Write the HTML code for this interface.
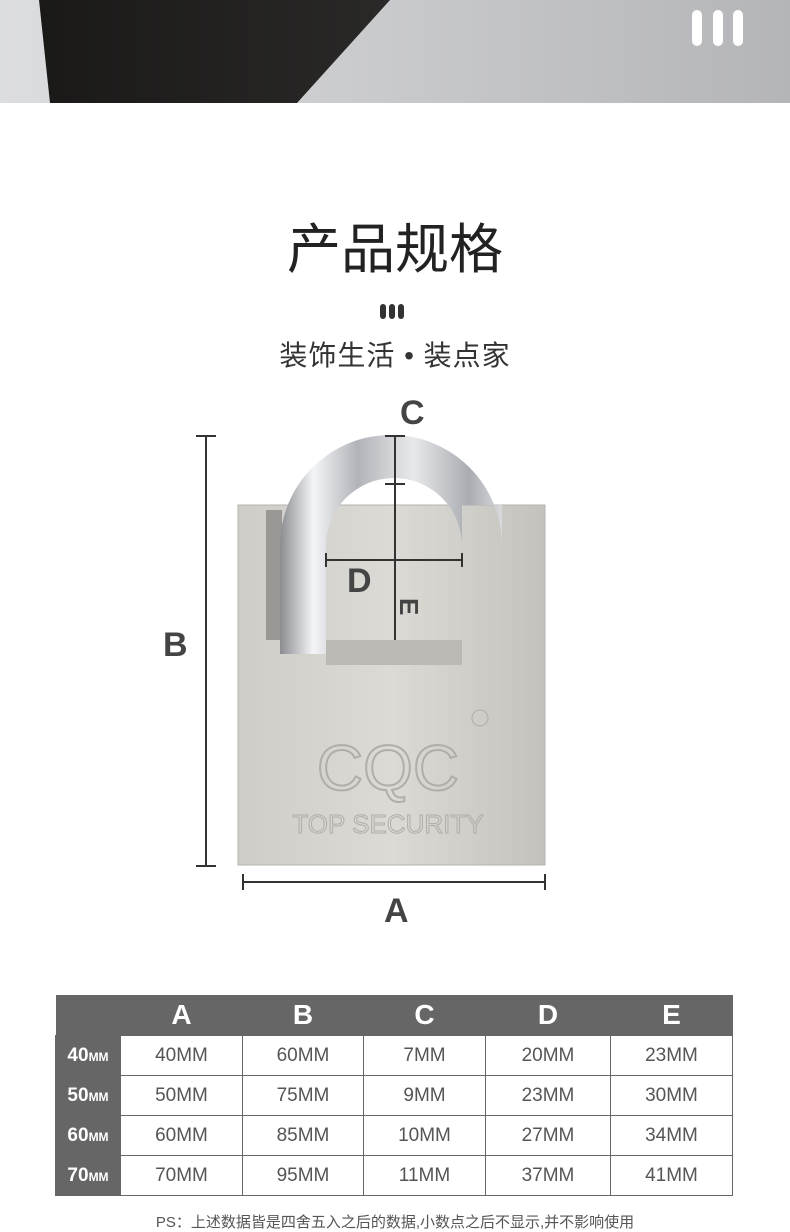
<!DOCTYPE html>
<html><head><meta charset="utf-8"><style>
body{margin:0;width:790px;height:1218px;background:#fff;position:relative;overflow:hidden;font-family:"Liberation Sans","Noto Sans CJK SC",sans-serif}
.abs{position:absolute}
table{border-collapse:collapse;position:absolute;left:55px;top:995px;width:677px;table-layout:fixed}
td{border:1px solid #666;height:39px;text-align:center;font-size:19px;color:#555;padding:0}
th{background:#666;color:#fff;font-size:28px;height:40px;font-weight:bold;padding:0}
td.l{background:#666;color:#fff;font-weight:bold;font-size:19px;border-color:#666}
td.l small{font-size:12px}
</style></head><body>
<svg class="abs" style="left:0;top:0" width="790" height="103">
<defs><linearGradient id="bg" x1="0" x2="1"><stop offset="0" stop-color="#dcdddf"/><stop offset="1" stop-color="#b4b5b8"/></linearGradient>
<linearGradient id="dk" x1="0" x2="1"><stop offset="0" stop-color="#1a1918"/><stop offset="1" stop-color="#2a2928"/></linearGradient></defs>
<rect width="790" height="103" fill="url(#bg)"/>
<polygon points="39,0 390,0 297,103 50,103" fill="url(#dk)"/>
<rect x="692" y="10" width="10" height="36" rx="5" fill="#fff"/><rect x="713" y="10" width="10" height="36" rx="5" fill="#fff"/><rect x="733" y="10" width="10" height="36" rx="5" fill="#fff"/>
</svg>
<div class="abs" style="left:0;width:790px;top:218px;text-align:center;font-size:54px;color:#222;line-height:64px">产品规格</div>
<svg class="abs" style="left:380px;top:304px" width="30" height="16"><rect x="0" y="0" width="6" height="15" rx="3" fill="#333"/><rect x="9" y="0" width="6" height="15" rx="3" fill="#333"/><rect x="18" y="0" width="6" height="15" rx="3" fill="#333"/></svg>
<div class="abs" style="left:0;width:790px;top:338px;text-align:center;font-size:28px;color:#333;line-height:36px;letter-spacing:1px">装饰生活 • 装点家</div>
<svg class="abs" style="left:0;top:390px" width="790" height="560">
<defs>
<linearGradient id="sh" gradientUnits="userSpaceOnUse" x1="280" y1="0" x2="502" y2="0"><stop offset="0" stop-color="#8a8c90"/><stop offset=".15" stop-color="#f4f5f7"/><stop offset=".35" stop-color="#b0b3b8"/><stop offset=".6" stop-color="#e8e9eb"/><stop offset=".85" stop-color="#a9acb1"/><stop offset="1" stop-color="#d8dadd"/></linearGradient>
<linearGradient id="bd" x1="0" x2="1"><stop offset="0" stop-color="#cfcdc8"/><stop offset=".5" stop-color="#dcdad5"/><stop offset="1" stop-color="#c4c2bd"/></linearGradient>
</defs>
<path d="M280 260 V156 A111 111 0 0 1 502 156 V140 H462 V156 A68 68 0 0 0 326 156 V260 Z" fill="url(#sh)"/>
<rect x="238" y="115" width="307" height="360" fill="url(#bd)" stroke="#b5b3ae"/>
<rect x="266" y="120" width="16" height="130" fill="#9a9894"/>
<rect x="326" y="250" width="136" height="25" fill="#bbb9b4"/>
<path d="M280 264 V156 A111 111 0 0 1 391 45 V88 A68 68 0 0 0 326 156 V264 Z" fill="url(#sh)"/>
<path d="M391 45 A111 111 0 0 1 502 156 V115 H462 V156 A68 68 0 0 0 391 88 Z" fill="url(#sh)"/>
<text x="388" y="400" font-size="64" fill="none" stroke="#b0aea9" stroke-width="2" text-anchor="middle" font-family="Liberation Sans">CQC</text>
<text x="388" y="443" font-size="26" fill="none" stroke="#b0aea9" stroke-width="1" text-anchor="middle" font-family="Liberation Sans">TOP SECURITY</text>
<circle cx="480" cy="328" r="8" fill="none" stroke="#b0aea9"/>
<g stroke="#333" stroke-width="2" fill="none">
<line x1="206" y1="46" x2="206" y2="476"/><line x1="196" y1="46" x2="216" y2="46"/><line x1="196" y1="476" x2="216" y2="476"/>
<line x1="243" y1="492" x2="545" y2="492"/><line x1="243" y1="484" x2="243" y2="500"/><line x1="545" y1="484" x2="545" y2="500"/>
<line x1="395" y1="46" x2="395" y2="250"/><line x1="385" y1="46" x2="405" y2="46"/><line x1="385" y1="94" x2="405" y2="94"/>
<line x1="326" y1="170" x2="462" y2="170"/><line x1="326" y1="163" x2="326" y2="177"/><line x1="462" y1="163" x2="462" y2="177"/>
</g>
<g font-family="Liberation Sans" font-weight="bold" font-size="34" fill="#444">
<text x="400" y="34">C</text><text x="163" y="266">B</text><text x="384" y="532">A</text><text x="347" y="202">D</text>
<text x="0" y="0" transform="translate(400,208) rotate(90)" font-size="26">E</text>
</g>
</svg>
<table>
<colgroup><col style="width:65px"><col style="width:122px"><col style="width:121px"><col style="width:122px"><col style="width:125px"><col style="width:122px"></colgroup>
<tr><th></th><th>A</th><th>B</th><th>C</th><th>D</th><th>E</th></tr>
<tr><td class="l">40<small>MM</small></td><td>40MM</td><td>60MM</td><td>7MM</td><td>20MM</td><td>23MM</td></tr>
<tr><td class="l">50<small>MM</small></td><td>50MM</td><td>75MM</td><td>9MM</td><td>23MM</td><td>30MM</td></tr>
<tr><td class="l">60<small>MM</small></td><td>60MM</td><td>85MM</td><td>10MM</td><td>27MM</td><td>34MM</td></tr>
<tr><td class="l">70<small>MM</small></td><td>70MM</td><td>95MM</td><td>11MM</td><td>37MM</td><td>41MM</td></tr>
</table>
<div class="abs" style="left:0;width:790px;top:1211px;text-align:center;font-size:15px;color:#555">PS：上述数据皆是四舍五入之后的数据,小数点之后不显示,并不影响使用</div>
</body></html>
